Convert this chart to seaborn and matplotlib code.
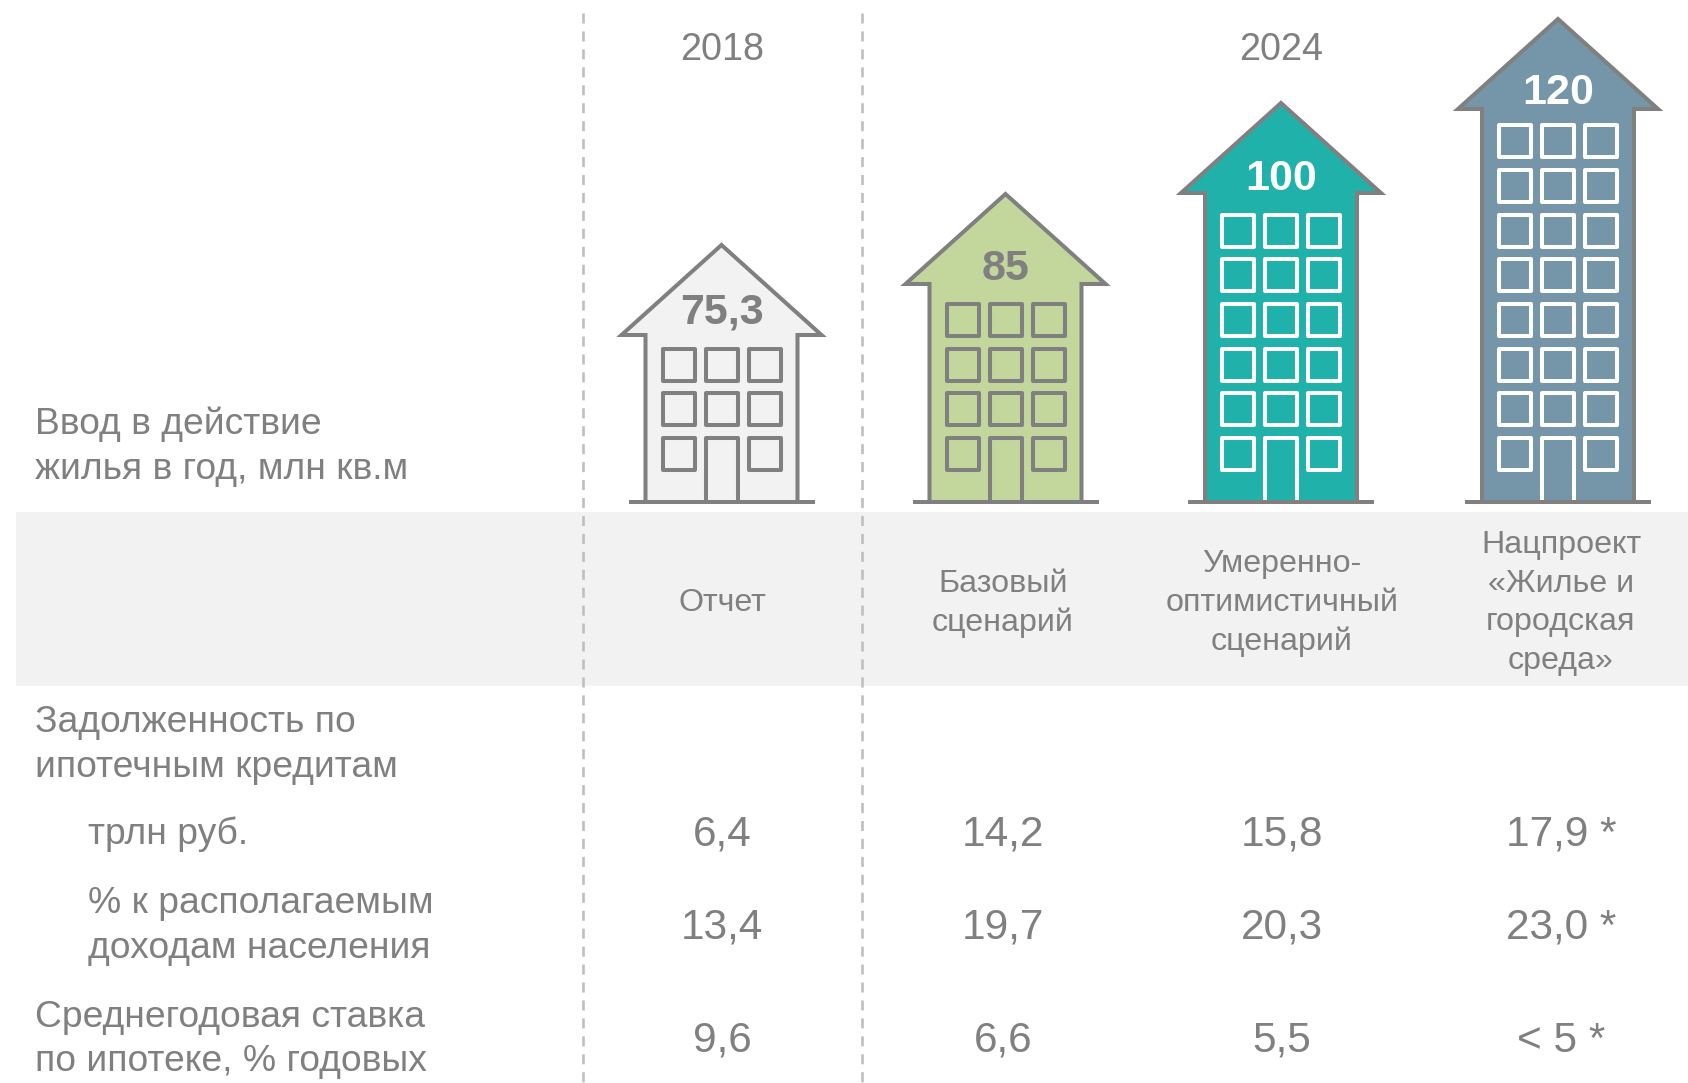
import numpy as np
import matplotlib
matplotlib.use("Agg")
import matplotlib.pyplot as plt
from matplotlib.patches import Polygon, Rectangle
import seaborn as sns

# ── Data ─────────────────────────────────────────────
scenarios = ["Отчет", "Базовый", "Умеренный", "Нацпроект"]
housing_labels = ["75,3", "85", "100", "120"]
house_floors = [3, 4, 6, 8]
house_body_px = [167, 218, 309, 393]      # picture is not to scale
house_colors = ["#F2F2F2", "#C3D69B", "#20B2AA", "#7596A8"]

years = ["2018", "2024"]
band_labels = [
    ["Отчет"],
    ["Базовый", "сценарий"],
    ["Умеренно-", "оптимистичный", "сценарий"],
    ["Нацпроект", "«Жилье и", "городская", "среда»"],
]
debt_trln = ["6,4", "14,2", "15,8", "17,9 *"]
debt_pct = ["13,4", "19,7", "20,3", "23,0 *"]
mortgage_rate = ["9,6", "6,6", "5,5", "< 5 *"]

# ── Layout (pixels of the 1688x1083 picture) ─────────
W, H = 1688, 1083
GROUND = 502
GREY = "#808080"
house_x = np.array([721.5, 1005.5, 1281, 1558])
table_x = [722, 1003, 1282, 1561]
label_drop = [22, 15, 14, 16]
BODY_HALF, ROOF_HALF, GROUND_HALF = 76, 100, 93
ROOF_H = 90
WIN_DX, WIN_PITCH, WIN_SIZE = 43, 44.7, 32
LW = 2.9
TEXT_SHIFT = 3.5


def py(y):
    # picture y (down from the top) -> axis y (up from the ground line)
    return GROUND - y


sns.set_theme(style="white")
plt.rcParams["font.family"] = ["Liberation Sans", "DejaVu Sans"]

fig = plt.figure(figsize=(W / 100, H / 100), dpi=100, facecolor="white")
ax = fig.add_axes([0, 0, 1, 1])

# ── Grey band and dashed separators ──
ax.add_patch(Rectangle((16, py(686)), W - 16, 174, color="#F2F2F2", lw=0, zorder=0))
for sep in [583, 862]:
    ax.plot([sep, sep], [py(13), py(H)], color="#BFBFBF", lw=1.9,
            linestyle=(0, (3.8, 3.0)), zorder=1)

# ── House bodies ──
sns.barplot(x=house_x, y=house_body_px, hue=scenarios, palette=house_colors,
            native_scale=True, dodge=False, saturation=1, legend=False,
            width=2 * BODY_HALF / np.diff(house_x).min(), linewidth=0, ax=ax, zorder=2)

for i, cx in enumerate(house_x):
    eave = house_body_px[i]
    peak = eave + ROOF_H
    ax.add_patch(Polygon([(cx - ROOF_HALF, eave), (cx, peak), (cx + ROOF_HALF, eave)],
                         closed=True, facecolor=house_colors[i], edgecolor="none", zorder=3))
    ax.plot([cx - BODY_HALF, cx - BODY_HALF, cx - ROOF_HALF, cx, cx + ROOF_HALF,
             cx + BODY_HALF, cx + BODY_HALF],
            [0, eave, eave, peak, eave, eave, 0],
            color=GREY, lw=LW, solid_joinstyle="miter", zorder=4)
    ax.plot([cx - GROUND_HALF, cx + GROUND_HALF], [0, 0], color=GREY, lw=LW,
            solid_capstyle="butt", zorder=6)

    # windows and door: white on the two dark houses
    stroke = "white" if i >= 2 else GREY
    for row in range(house_floors[i]):
        y0 = 32 + row * WIN_PITCH
        for col in (-1, 0, 1):
            if row == 0 and col == 0:
                x0 = cx - WIN_SIZE / 2
                ax.plot([x0, x0, x0 + WIN_SIZE, x0 + WIN_SIZE],
                        [0, y0 + WIN_SIZE, y0 + WIN_SIZE, 0],
                        color=stroke, lw=2.9, solid_joinstyle="round", zorder=5)
                continue
            ax.add_patch(Rectangle((cx + col * WIN_DX - WIN_SIZE / 2, y0), WIN_SIZE, WIN_SIZE,
                                   facecolor="none", edgecolor=stroke, lw=2.9,
                                   joinstyle="round", zorder=5))

    ax.text(cx, eave + label_drop[i], housing_labels[i], ha="center", va="center", fontsize=31,
            fontweight="bold", color=stroke, zorder=7)

# ── Text ──
for label, x in zip(years, [722, 1281]):
    ax.text(x, py(46 + TEXT_SHIFT), label, ha="center", va="center", fontsize=27.2, color=GREY)

left_text = [
    (35, 421, "Ввод в действие"),
    (35, 466, "жилья в год, млн кв.м"),
    (35, 719, "Задолженность по"),
    (35, 764, "ипотечным кредитам"),
    (88, 831, "трлн руб."),
    (88, 900, "% к располагаемым"),
    (88, 945, "доходам населения"),
    (35, 1014, "Среднегодовая ставка"),
    (35, 1058, "по ипотеке, % годовых"),
]
for x, y, label in left_text:
    ax.text(x, py(y + TEXT_SHIFT), label, ha="left", va="center", fontsize=26.8, color=GREY)

for x, lines in zip(table_x, band_labels):
    for k, line in enumerate(lines):
        y = 600 + (k - (len(lines) - 1) / 2) * 38.6
        ax.text(x, py(y + TEXT_SHIFT - 0.5), line, ha="center", va="center", fontsize=23.2, color=GREY)

for row, y in zip([debt_trln, debt_pct, mortgage_rate], [831, 924, 1037]):
    for x, val in zip(table_x, row):
        ax.text(x, py(y + TEXT_SHIFT), val, ha="center", va="center", fontsize=30.5, color=GREY)

ax.set_xlim(0, W)
ax.set_ylim(py(H), py(0))
ax.axis("off")

fig.savefig("out.png", dpi=100)
